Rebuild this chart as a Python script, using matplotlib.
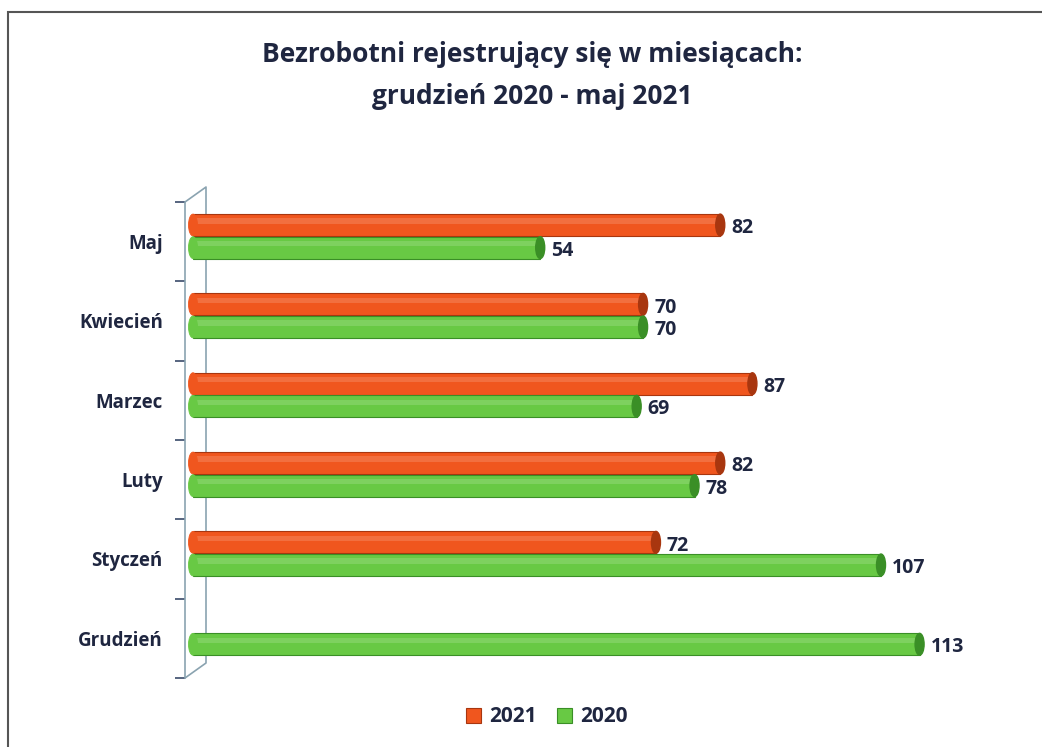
import numpy as np
import matplotlib.pyplot as plt
from matplotlib.patches import Ellipse, Rectangle

miesiace = ['Maj', 'Kwiecień', 'Marzec', 'Luty', 'Styczeń', 'Grudzień']
wartosci_2021 = [82, 70, 87, 82, 72, np.nan]
wartosci_2020 = [54, 70, 69, 78, 107, 113]

plt.rcParams['font.family'] = ['Open Sans', 'DejaVu Sans']
granat = '#1f2640'

fig = plt.figure(figsize=(10.42, 7.47), dpi=100)
ax = fig.add_axes([185 / 1042, 1 - 678 / 747, 815 / 1042, 476 / 747])

px_x = 6.43   # pikseli na jednostke
px_y = 79.4   # pikseli na kategorie
y = np.arange(len(miesiace))
h = 0.275

serie = [(wartosci_2021, -0.21, '#f0561e', '#a8360f', '2021'),
         (wartosci_2020, 0.075, '#68c944', '#3a8f26', '2020')]
for wart, off, kolor, brzeg, etyk in serie:
    wart = np.array(wart, dtype=float)
    ax.barh(y + off, wart, height=h, color=kolor, edgecolor=brzeg,
            linewidth=0.8, label=etyk, zorder=3)
    # lekki polysk cylindra
    ax.barh(y + off - h * 0.18, wart, height=h * 0.25, color='white',
            alpha=0.15, linewidth=0, zorder=4)
    for yi, v in zip(y, wart):
        if np.isnan(v):
            continue
        ax.add_patch(Ellipse((v, yi + off), 9 / px_x, h, facecolor=brzeg,
                             edgecolor=brzeg, zorder=5))
        ax.add_patch(Ellipse((0, yi + off), 9 / px_x, h, facecolor=kolor,
                             edgecolor=kolor, linewidth=0.6, zorder=5))
        ax.text(v + 11 / px_x, yi + off + 0.04, f'{v:.0f}', va='center',
                ha='left', fontsize=14, fontweight='bold', color=granat)

ax.set_xlim(-8 / px_x, 807 / px_x)
ax.set_ylim(len(miesiace) - 0.5, -0.5)

# sciana 3D
sciana = '#8aa3b0'
gx = 21 / px_x - 8 / px_x
gy = 15 / px_y
ax.plot([-8 / px_x, gx, gx, -8 / px_x],
        [-0.5, -0.5 - gy, len(miesiace) - 0.5 - gy, len(miesiace) - 0.5],
        color=sciana, lw=1.2, clip_on=False, zorder=1)

for s in ['top', 'right', 'bottom']:
    ax.spines[s].set_visible(False)
ax.spines['left'].set_color(sciana)
ax.spines['left'].set_linewidth(1.2)
ax.set_xticks([])
ax.set_yticks(y)
ax.set_yticklabels(miesiace, fontsize=13.5, fontweight='bold', color=granat)
ax.set_yticks(np.arange(-0.5, len(miesiace)), minor=True)
ax.tick_params(axis='y', which='major', length=0, pad=16)
ax.tick_params(axis='y', which='minor', length=7, color='#3a4a6a', width=1.2)

fig.text(532 / 1042, 1 - 55 / 747, 'Bezrobotni rejestrujący się w miesiącach:',
         ha='center', va='center', fontsize=19, fontweight='bold', color=granat)
fig.text(532 / 1042, 1 - 96 / 747, 'grudzień 2020 - maj 2021',
         ha='center', va='center', fontsize=19, fontweight='bold', color=granat)

fig.legend(loc='center', bbox_to_anchor=(547 / 1042, 1 - 717 / 747), ncol=2,
           frameon=False, handlelength=0.7, handleheight=0.7, handletextpad=0.4,
           columnspacing=1.0, prop={'weight': 'bold', 'size': 15},
           labelcolor=granat)

fig.patches.append(Rectangle((8 / 1042, -0.1), 1.2, 1 - 12 / 747 + 0.1,
                             transform=fig.transFigure, fill=False,
                             edgecolor='#555555', linewidth=1.5))

fig.savefig('out.png', dpi=100)
